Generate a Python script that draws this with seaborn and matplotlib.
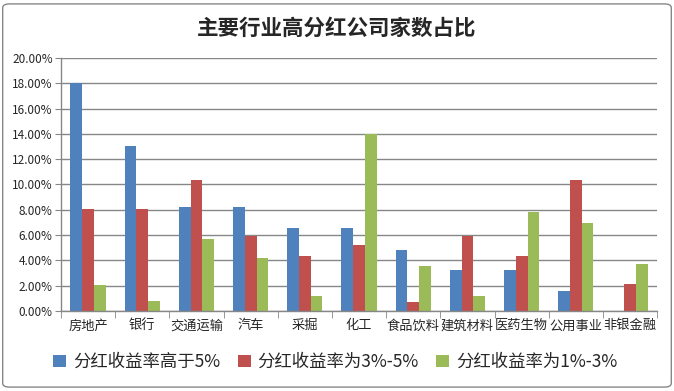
import matplotlib
matplotlib.use('Agg')
import matplotlib.pyplot as plt
import seaborn as sns
import pandas as pd
from matplotlib.ticker import PercentFormatter, FixedLocator, NullFormatter
from matplotlib.patches import FancyBboxPatch

industries = ['房地产', '银行', '交通运输', '汽车', '采掘', '化工',
              '食品饮料', '建筑材料', '医药生物', '公用事业', '非银金融']
series_names = ['分红收益率高于5%', '分红收益率为3%-5%', '分红收益率为1%-3%']
above_5 = [0.1803, 0.1307, 0.0821, 0.0821, 0.0653, 0.0653, 0.0486, 0.0327, 0.0327, 0.0159, 0.0]
from_3_to_5 = [0.0810, 0.0810, 0.1036, 0.0590, 0.0436, 0.0518, 0.0072, 0.0592, 0.0438, 0.1036, 0.0215]
from_1_to_3 = [0.0207, 0.0080, 0.0566, 0.0422, 0.0120, 0.1400, 0.0359, 0.0120, 0.0781, 0.0693, 0.0374]
colors = ['#4F81BD', '#C0504D', '#9BBB59']

rows = []
for name, values in zip(series_names, [above_5, from_3_to_5, from_1_to_3]):
    for ind, v in zip(industries, values):
        rows.append({'行业': ind, '系列': name, '占比': v})
df = pd.DataFrame(rows)

sns.set_style('white')
plt.rcParams['font.family'] = ['Noto Sans CJK SC', 'DejaVu Sans']

fig = plt.figure(figsize=(6.74, 3.91), dpi=100)
ax = fig.add_axes([0.0905, 0.2046, 0.8845, 0.6471])

sns.barplot(data=df, x='行业', y='占比', hue='系列', palette=colors,
            width=0.65, gap=0, saturation=1, linewidth=0, ax=ax, legend=True)

ax.set_ylim(0, 0.20)
ax.set_xlim(-0.5, len(industries) - 0.5)
ax.yaxis.set_major_locator(FixedLocator([i * 0.02 for i in range(11)]))
ax.yaxis.set_major_formatter(PercentFormatter(xmax=1, decimals=2))
ax.grid(axis='y', color='#878787', linewidth=1)
ax.set_axisbelow(True)
ax.set_xlabel('')
ax.set_ylabel('')

ax.tick_params(axis='y', labelsize=8.5, length=4, direction='out', color='#878787', left=True, pad=2)
ax.tick_params(axis='x', which='major', labelsize=9.5, length=0, pad=6)
ax.set_xticks([i - 0.5 for i in range(len(industries) + 1)], minor=True)
ax.xaxis.set_minor_formatter(NullFormatter())
ax.tick_params(axis='x', which='minor', length=5, direction='out', color='#878787', bottom=True)

for side in ['top', 'right']:
    ax.spines[side].set_visible(False)
for side in ['left', 'bottom']:
    ax.spines[side].set_color('#878787')
    ax.spines[side].set_linewidth(1)

ax.legend(loc='upper center', bbox_to_anchor=(0.46, -0.105), ncol=3, frameon=False,
          fontsize=12.5, handlelength=0.75, handleheight=0.75, handletextpad=0.4,
          columnspacing=1.0)

fig.suptitle('主要行业高分红公司家数占比', fontsize=15.5, fontweight='bold', y=0.955)

border = FancyBboxPatch((0.004, 0.01), 0.992, 0.98, boxstyle='round,pad=0,rounding_size=0.01',
                        transform=fig.transFigure, fill=False, edgecolor='#878787', linewidth=1)
fig.patches.append(border)

fig.savefig('out.png', dpi=100)
